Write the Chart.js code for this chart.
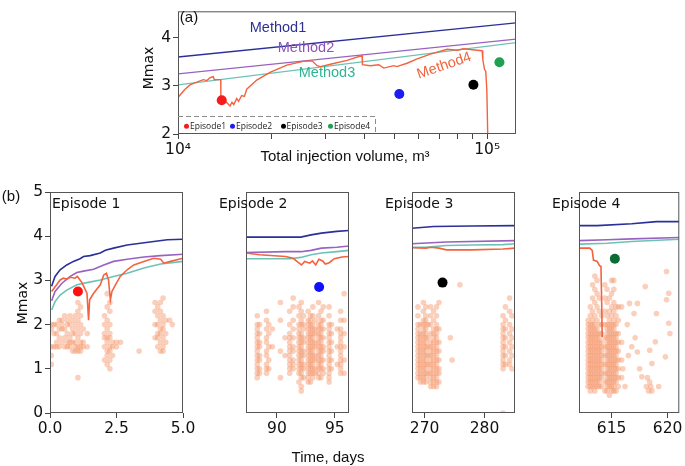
<!DOCTYPE html>
<html>
<head>
<meta charset="utf-8">
<script src="https://cdn.jsdelivr.net/npm/chart.js@4.4.1/dist/chart.umd.min.js"></script>
<style>
  html, body { margin: 0; padding: 0; background: #fff; }
  #wrap { position: relative; width: 685px; height: 466px; overflow: hidden; }
  canvas { position: absolute; left: 0; top: 0; }
  .t { position: absolute; white-space: nowrap; line-height: 1; transform: translate(-50%, -50%); color: #111; }
  .l { transform: translate(0, -50%); }
  .dj { font-family: "DejaVu Sans", sans-serif; font-size: 14px; }
  .ar { font-family: "Liberation Sans", Arial, sans-serif; font-size: 15px; }
  .lg { position: absolute; font-family: "Open Sans", sans-serif; font-size: 8.5px; color: #222; transform: translate(0, -50%); white-space: nowrap; line-height: 1; }
  .lg i { display: inline-block; width: 5px; height: 5px; border-radius: 50%; margin-right: 1px; vertical-align: 0.5px; }
</style>
</head>
<body>
<div id="wrap">
  <canvas id="top" width="685" height="466"></canvas>
  <canvas id="ep1" width="685" height="466"></canvas>
  <canvas id="ep2" width="685" height="466"></canvas>
  <canvas id="ep3" width="685" height="466"></canvas>
  <canvas id="ep4" width="685" height="466"></canvas>

  <svg width="685" height="466" style="position:absolute;left:0;top:0">
    <path d="M178 116.5 H375.5 V134" fill="none" stroke="#8a8a8a" stroke-width="1" stroke-dasharray="5 3"/>
  </svg>
  <div class="lg" style="left:184px;top:126px"><i style="background:#f21d1d"></i>Episode1</div>
  <div class="lg" style="left:230px;top:126px"><i style="background:#1d1df2"></i>Episode2</div>
  <div class="lg" style="left:280.5px;top:126px"><i style="background:#000"></i>Episode3</div>
  <div class="lg" style="left:328px;top:126px"><i style="background:#22a052"></i>Episode4</div>

  <div class="t ar" style="left:189px;top:16px">(a)</div>
  <div class="t ar" style="left:278px;top:27px;font-size:14.5px;color:#2e3192">Method1</div>
  <div class="t ar" style="left:306px;top:47px;font-size:14.5px;color:#8e52b8">Method2</div>
  <div class="t ar" style="left:327px;top:72px;font-size:14.5px;color:#2fb592">Method3</div>
  <div class="t ar" style="left:444px;top:65px;font-size:14.5px;color:#f0643f;transform:translate(-50%,-50%) rotate(-19deg)">Method4</div>
  <div class="t dj" style="left:148px;top:68px;transform:translate(-50%,-50%) rotate(-90deg)">Mmax</div>
  <div class="t ar" style="left:345px;top:155px">Total injection volume, m³</div>

  <div class="t ar" style="left:11px;top:195px">(b)</div>
  <div class="t dj" style="left:22px;top:303px;transform:translate(-50%,-50%) rotate(-90deg)">Mmax</div>
  <div class="t dj l" style="left:52px;top:203px">Episode 1</div>
  <div class="t dj l" style="left:219px;top:203px">Episode 2</div>
  <div class="t dj l" style="left:385px;top:203px">Episode 3</div>
  <div class="t dj l" style="left:552px;top:203px">Episode 4</div>
  <div class="t ar" style="left:328px;top:456px">Time, days</div>
</div>

<script>
// ---- panel (a): Mmax vs total injection volume ----
const topXTicks = [10000, 20000, 30000, 40000, 50000, 60000, 70000, 80000, 90000, 100000];
const topYTicks = [2, 3, 4];
const topMethod1 = [[10000, 3.6], [124000, 4.31]];
const topMethod2 = [[10000, 3.25], [124000, 3.97]];
const topMethod3 = [[10000, 3.02], [124000, 3.9]];
const topMethod4 = [
  [10000, 2.76], [10500, 2.92], [10935, 3.02], [11500, 3.08], [12075, 3.13], [12400, 3.11],
  [12700, 3.17], [13007, 3.19], [13100, 3.13], [13750, 3.13], [13760, 2.74], [14100, 2.7],
  [14400, 2.65], [14734, 2.58], [14950, 2.66], [15150, 2.61], [15488, 2.74], [15700, 2.68],
  [16074, 2.8], [16400, 2.78], [16684, 2.93], [17973, 3.12], [19846, 3.28], [22478, 3.43],
  [25437, 3.51], [27150, 3.52], [28180, 3.42], [28880, 3.4], [31120, 3.45], [35230, 3.53],
  [39400, 3.63], [39500, 3.44], [41920, 3.42], [44610, 3.44], [46300, 3.37], [49880, 3.42],
  [51000, 3.4], [55100, 3.47], [59360, 3.56], [65560, 3.66], [74260, 3.76], [79990, 3.74],
  [84040, 3.77], [92820, 3.74], [96330, 3.73], [96830, 3.55], [98000, 3.35], [99000, 3.3],
  [99800, 2.9], [100500, 1.9]
];
const episodeNames = ["Episode1", "Episode2", "Episode3", "Episode4"];
const topEpisodeX = [13850, 52000, 90300, 109600];
const topEpisodeY = [2.7, 2.83, 3.025, 3.49];
const topEpisodeColors = ["#f21d1d", "#1d1df2", "#000000", "#22a052"];

// ---- panel (b): Mmax vs time for each episode ----
const yTicksB = [0, 1, 2, 3, 4, 5];

const ep1Range = [0, 5];
const ep1Ticks = [0, 2.5, 5];
const ep1Dot = [1.05, 2.75];
const ep1M1 = [[0.06,2.87],[0.19,3.09],[0.38,3.24],[0.63,3.35],[0.88,3.43],[1.13,3.49],[1.26,3.54],[1.51,3.56],[1.89,3.62],[2.08,3.68],[2.39,3.73],[2.9,3.8],[3.4,3.84],[3.9,3.88],[4.41,3.92],[5,3.93]];
const ep1M2 = [[0.06,2.54],[0.19,2.75],[0.44,2.93],[0.76,3.09],[1.01,3.18],[1.26,3.21],[1.64,3.25],[2.02,3.35],[2.39,3.43],[2.9,3.48],[3.53,3.53],[4.16,3.56],[5,3.59]];
const ep1M3 = [[0.06,2.33],[0.19,2.52],[0.38,2.67],[0.63,2.78],[1.01,2.9],[1.39,2.95],[1.89,3.01],[2.39,3.09],[2.9,3.16],[3.53,3.28],[4.16,3.37],[5,3.43]];
const ep1M4 = [[0.06,2.75],[0.25,2.9],[0.38,3.01],[0.5,3.05],[0.63,3.03],[0.76,3.07],[0.94,3.05],[1.03,3.09],[1.2,2.95],[1.39,2.71],[1.45,2.1],[1.49,2.56],[1.64,2.71],[1.89,2.9],[2.02,3.12],[2.12,3.16],[2.2,3.01],[2.27,2.56],[2.33,2.75],[2.46,2.9],[2.64,3.09],[2.9,3.24],[3.15,3.35],[3.53,3.43],[3.9,3.5],[4.16,3.48],[4.28,3.39],[4.53,3.43],[5,3.5]];
const ep1Cloud = [
  [0.05, [1.1, 1.3, 1.5, 1.9, 2.0]],
  [0.15, [1.5, 1.8, 2.0]],
  [0.25, [1.5, 1.6, 1.8, 2.0]],
  [0.35, [1.5, 1.7, 1.9, 2.1]],
  [0.45, [1.6, 1.9, 2.0, 2.1]],
  [0.55, [1.5, 1.7, 1.9, 2.2]],
  [0.65, [1.5, 1.6, 1.8, 2.0, 2.1]],
  [0.75, [1.5, 1.6, 1.7, 2.0, 2.2]],
  [0.85, [1.4, 1.6, 1.8, 1.9, 2.1]],
  [0.95, [1.4, 1.5, 1.6, 1.8, 2.0, 2.2]],
  [1.05, [0.8, 1.4, 1.5, 1.7, 1.9, 2.1, 2.3, 2.5]],
  [1.15, [1.4, 1.5, 1.6, 1.8, 2.0, 2.2, 2.4]],
  [1.25, [1.5, 1.6, 1.9]],
  [1.4, [1.5, 1.8]],
  [2.05, [1.2, 1.5, 1.7, 1.8, 2.0, 2.2]],
  [2.15, [1.1, 1.3, 1.4, 1.6, 1.7, 1.9, 2.1, 2.4, 2.7]],
  [2.25, [1.0, 1.2, 1.4, 1.5, 1.7, 1.8, 2.0, 2.3, 2.5]],
  [2.35, [1.3, 1.5, 1.6]],
  [2.5, [1.5, 1.6]],
  [2.65, [1.6]],
  [3.35, [1.4]],
  [3.95, [1.7, 2.0, 2.3, 2.5]],
  [4.05, [1.5, 1.7, 1.8, 2.0, 2.2, 2.4]],
  [4.15, [1.4, 1.6, 1.8, 1.9, 2.1, 2.3, 2.5]],
  [4.25, [1.4, 1.5, 1.7, 1.9, 2.0, 2.2, 2.6]],
  [4.35, [1.6, 1.8, 2.1]],
  [4.5, [2.1]],
  [4.6, [2.0]]
];

const ep2Range = [87.33, 96.22];
const ep2Ticks = [90, 95];
const ep2Dot = [93.64, 2.85];
const ep2M1 = [[87.33,3.98],[92.06,3.98],[92.95,4.03],[93.84,4.07],[95.17,4.11],[96.24,4.13]];
const ep2M2 = [[87.33,3.63],[90.73,3.65],[92.06,3.65],[92.95,3.68],[93.84,3.73],[95.17,3.75],[96.24,3.78]];
const ep2M3 = [[87.33,3.49],[91.17,3.49],[92.06,3.52],[92.95,3.58],[93.84,3.62],[95.17,3.65],[96.24,3.68]];
const ep2M4 = [[87.33,3.62],[88.51,3.58],[90.73,3.54],[91.4,3.5],[91.73,3.43],[92.11,3.35],[92.4,3.43],[92.84,3.39],[93.06,3.44],[93.35,3.35],[93.62,3.48],[93.95,3.44],[94.17,3.37],[94.51,3.4],[94.95,3.49],[95.62,3.53],[96.24,3.54]];
const ep2Cloud = [
  [88.3, [0.8, 0.9, 1.0, 1.1, 1.2, 1.3, 1.4, 1.5, 1.6, 1.7, 1.8, 1.9, 2.0, 2.2]],
  [88.5, [0.9, 1.0, 1.2, 1.3, 1.5, 1.6, 1.8, 2.0]],
  [89.1, [0.9, 1.0, 1.1, 1.3, 1.4, 1.6, 1.7, 1.9, 2.1, 2.3]],
  [89.3, [1.0, 1.2, 1.5, 1.8, 2.0]],
  [89.6, [1.5, 1.9]],
  [90.3, [0.8, 1.4, 2.1, 2.5]],
  [90.7, [1.3, 1.7]],
  [91.1, [0.9, 1.0, 1.1, 1.2, 1.3, 1.4, 1.5, 1.6, 1.7, 1.8, 2.0, 2.3]],
  [91.4, [1.0, 1.1, 1.2, 1.4, 1.5, 1.7, 1.9, 2.1, 2.4, 2.6]],
  [91.9, [0.7, 0.9, 1.0, 1.1, 1.2, 1.3, 1.4, 1.5, 1.6, 1.7, 1.8, 1.9, 2.0, 2.2, 2.4]],
  [92.1, [0.5, 0.6, 0.8, 0.9, 1.0, 1.1, 1.2, 1.3, 1.4, 1.5, 1.6, 1.7, 1.8, 2.0, 2.1, 2.3, 2.5]],
  [92.3, [0.8, 1.0, 1.1, 1.3, 1.4, 1.6, 1.7, 1.9, 2.0, 2.2]],
  [92.7, [0.7, 0.8, 0.9, 1.0, 1.1, 1.2, 1.3, 1.4, 1.5, 1.6, 1.7, 1.8, 1.9, 2.0, 2.1, 2.3]],
  [92.9, [0.7, 0.9, 1.0, 1.1, 1.2, 1.3, 1.4, 1.5, 1.6, 1.7, 1.8, 1.9, 2.0, 2.1, 2.2]],
  [93.1, [0.8, 0.9, 1.0, 1.1, 1.2, 1.3, 1.4, 1.5, 1.6, 1.7, 1.8, 1.9, 2.0, 2.2, 2.4]],
  [93.3, [0.9, 1.0, 1.2, 1.3, 1.5, 1.6, 1.8, 1.9, 2.1]],
  [93.6, [0.8, 0.9, 1.0, 1.1, 1.2, 1.3, 1.4, 1.5, 1.6, 1.7, 1.8, 1.9, 2.0, 2.2, 2.5]],
  [93.8, [0.8, 1.0, 1.1, 1.2, 1.3, 1.4, 1.5, 1.6, 1.7, 1.8, 1.9, 2.0, 2.1, 2.3]],
  [94.0, [0.9, 1.0, 1.2, 1.4, 1.5, 1.7, 1.9, 2.1, 2.4]],
  [94.5, [0.7, 0.8, 0.9, 1.0, 1.1, 1.2, 1.3, 1.4, 1.5, 1.6, 1.7, 1.8, 1.9, 2.0, 2.2, 2.4]],
  [94.7, [1.0, 1.2, 1.4, 1.6, 1.8, 2.0]],
  [95.2, [1.1, 1.5, 1.9]],
  [95.5, [0.9, 1.0, 1.1, 1.2, 1.3, 1.4, 1.5, 1.6, 1.7, 1.8, 1.9, 2.1, 2.3]],
  [95.8, [0.9, 1.2, 1.5, 1.8, 2.1, 2.7]]
];

const ep3Range = [267.9, 285.1];
const ep3Ticks = [270, 280];
const ep3Dot = [273.0, 2.95];
const ep3M1 = [[267.9,4.18],[271.5,4.22],[277.9,4.23],[285.1,4.24]];
const ep3M2 = [[267.9,3.83],[273.65,3.87],[285.1,3.9]];
const ep3M3 = [[267.9,3.75],[270.2,3.75],[273.65,3.79],[277.9,3.8],[283.1,3.81],[285.1,3.83]];
const ep3M4 = [[267.9,3.74],[270.2,3.73],[271.1,3.75],[272.4,3.73],[273.65,3.69],[277.9,3.69],[283.1,3.71],[285.1,3.73]];
const ep3Cloud = [
  [268.9, [0.8, 0.9, 1.0, 1.1, 1.2, 1.3, 1.4, 1.5, 1.6, 1.7, 1.8, 1.9, 2.0, 2.2, 2.4]],
  [269.3, [0.7, 0.8, 0.9, 1.0, 1.1, 1.2, 1.3, 1.4, 1.5, 1.6, 1.7, 1.8, 2.0]],
  [269.8, [0.7, 0.8, 0.9, 1.0, 1.1, 1.2, 1.3, 1.4, 1.5, 1.6, 1.7, 1.8, 1.9, 2.0, 2.1, 2.3, 2.5]],
  [270.2, [0.7, 0.8, 0.9, 1.0, 1.1, 1.2, 1.3, 1.4, 1.5, 1.6, 1.7, 1.8, 1.9, 2.0, 2.1, 2.2, 2.4]],
  [270.6, [0.9, 1.1, 1.3, 1.5, 1.7, 2.0]],
  [271.0, [0.6, 0.7, 0.8, 0.9, 1.0, 1.1, 1.2, 1.3, 1.4, 1.5, 1.6, 1.8, 2.0, 2.2, 2.4]],
  [271.5, [0.6, 0.7, 0.8, 0.9, 1.0, 1.1, 1.2, 1.3, 1.4, 1.5, 1.6, 1.7, 1.8, 1.9, 2.1, 2.3]],
  [272.0, [0.6, 0.7, 0.8, 0.9, 1.0, 1.1, 1.2, 1.3, 1.4, 1.5, 1.6, 1.7, 1.8, 1.9, 2.0, 2.2, 2.4]],
  [272.4, [0.7, 0.9, 1.0, 1.2, 1.4, 1.6, 1.9, 2.5]],
  [274.3, [1.7]],
  [274.6, [1.2]],
  [275.9, [2.9]],
  [283.1, [0.0, 1.0, 1.1, 1.2, 1.3, 1.4, 1.5, 1.6, 1.7, 1.8, 1.9, 2.0, 2.2]],
  [283.5, [1.1, 1.3, 1.5, 1.7, 1.9, 2.1, 2.4]],
  [284.2, [1.1, 1.2, 1.4, 1.6, 1.8, 2.0, 2.3, 2.6]],
  [284.6, [1.0, 1.3, 1.5, 1.7, 1.9, 2.2]]
];

const ep4Range = [612.09, 621.04];
const ep4Ticks = [615, 620];
const ep4Dot = [615.29, 3.49];
const ep4M1 = [[612.09,4.24],[613.7,4.24],[616.8,4.28],[619.0,4.33],[621.04,4.33]];
const ep4M2 = [[612.09,3.9],[614.6,3.92],[616.8,3.94],[621.04,3.97]];
const ep4M3 = [[612.09,3.82],[614.6,3.84],[616.8,3.88],[621.04,3.93]];
const ep4M4 = [[612.09,3.73],[613.05,3.73],[613.27,3.68],[613.38,3.46],[613.71,3.43],[613.93,3.33],[614.05,3.32],[614.11,2.56],[614.16,1.72]];
const ep4Cloud = [
  [612.9, [0.6, 0.7, 0.8, 0.9, 1.0, 1.1, 1.2, 1.3, 1.4, 1.5, 1.6, 1.7, 1.8, 1.9, 2.0, 2.1]],
  [613.1, [0.5, 0.6, 0.7, 0.8, 0.9, 1.0, 1.1, 1.2, 1.3, 1.4, 1.5, 1.6, 1.7, 1.8, 1.9, 2.0, 2.2, 2.4]],
  [613.3, [0.6, 0.7, 0.8, 0.9, 1.0, 1.1, 1.2, 1.3, 1.4, 1.5, 1.6, 1.7, 1.8, 1.9, 2.0, 2.1, 2.3, 2.6, 2.9]],
  [613.5, [0.5, 0.6, 0.7, 0.8, 0.9, 1.0, 1.1, 1.2, 1.3, 1.4, 1.5, 1.6, 1.7, 1.8, 1.9, 2.0, 2.2, 2.5, 2.8, 3.1]],
  [613.7, [0.6, 0.7, 0.8, 0.9, 1.0, 1.1, 1.2, 1.3, 1.4, 1.5, 1.6, 1.7, 1.8, 1.9, 2.1, 2.4, 2.7, 3.0]],
  [613.9, [0.6, 0.7, 0.8, 0.9, 1.0, 1.1, 1.2, 1.3, 1.4, 1.5, 1.6, 1.7, 1.8, 2.0, 2.3, 2.6]],
  [614.1, [0.6, 0.8, 0.9, 1.0, 1.1, 1.2, 1.3, 1.4, 1.5, 1.6, 1.8, 2.0, 2.2]],
  [614.4, [0.5, 0.7, 0.9, 1.1, 1.3, 1.5, 1.7, 2.0, 2.3, 2.6, 2.9]],
  [614.6, [0.5, 0.6, 0.7, 0.8, 0.9, 1.0, 1.1, 1.2, 1.3, 1.4, 1.5, 1.6, 1.7, 1.8, 1.9, 2.0, 2.2, 2.5, 2.8]],
  [614.8, [0.4, 0.6, 0.7, 0.8, 0.9, 1.0, 1.1, 1.2, 1.3, 1.4, 1.5, 1.6, 1.7, 1.8, 1.9, 2.0, 2.1, 2.3, 2.6]],
  [615.0, [0.5, 0.6, 0.7, 0.8, 0.9, 1.0, 1.1, 1.2, 1.3, 1.4, 1.5, 1.6, 1.7, 1.8, 1.9, 2.0, 2.2, 2.4, 2.7, 3.0]],
  [615.2, [0.5, 0.6, 0.7, 0.8, 0.9, 1.0, 1.1, 1.2, 1.3, 1.4, 1.5, 1.6, 1.7, 1.8, 1.9, 2.0, 2.1, 2.3, 2.5, 2.8, 3.0]],
  [615.4, [0.5, 0.7, 0.8, 0.9, 1.0, 1.1, 1.2, 1.3, 1.4, 1.5, 1.6, 1.7, 1.8, 2.0, 2.2, 2.4]],
  [615.6, [0.6, 0.8, 1.0, 1.2, 1.4, 1.6, 1.8, 2.1, 2.4]],
  [615.9, [0.8, 1.2, 1.6, 2.4]]
];
const ep4Loose = [
  [616.0, 1.0], [616.2, 0.6], [616.4, 2.0], [616.5, 1.3], [616.6, 2.48], [616.8, 1.5], [617.0, 2.25],
  [617.1, 1.7], [617.3, 2.48], [617.3, 1.38], [617.5, 1.0], [617.7, 0.82], [618.0, 2.86], [618.1, 0.6],
  [618.2, 0.8], [618.3, 0.5], [618.4, 0.7], [618.4, 1.42], [618.5, 0.6], [618.6, 0.5], [618.6, 1.12],
  [618.9, 1.61], [619.0, 2.25], [619.2, 0.6], [619.8, 1.27], [619.9, 3.2], [619.9, 2.56], [620.1, 2.71],
  [620.1, 2.03], [620.2, 1.8]
];

// colours
const cM1 = "#2b2f99", cM2 = "#9a62c0", cM3 = "#6cc3b5", cM4 = "#f4623e";
const cloudColor = "rgba(244, 148, 104, 0.45)";

const W = 685, H = 466;
const pairs = arr => arr.map(([x, y]) => ({ x, y }));
const cols = arr => arr.flatMap(([x, ys]) => ys.map(y => ({ x, y })));

const frame = {
    id: "frame",
    afterDraw(chart) {
        const a = chart.chartArea, ctx = chart.ctx;
        ctx.save();
        ctx.strokeStyle = "#555";
        ctx.lineWidth = 1;
        ctx.strokeRect(a.left + 0.5, a.top + 0.5, a.right - a.left - 1, a.bottom - a.top - 1);
        ctx.restore();
    }
};

function line(data, color, width) {
    return { data: pairs(data), showLine: true, borderColor: color, borderWidth: width || 1.6, pointRadius: 0, tension: 0 };
}
function dot(xy, color) {
    return { data: [{ x: xy[0], y: xy[1] }], backgroundColor: color, borderWidth: 0, pointRadius: 5 };
}
function cloud(points) {
    return { data: points, backgroundColor: cloudColor, borderWidth: 0, pointRadius: 2.8 };
}

function axis(o) {
    return {
        type: o.type || "linear",
        display: o.display !== false,
        min: o.min, max: o.max, bounds: "data",
        afterFit: s => { if (o.horizontal) s.height = 30; else s.width = 30; },
        afterBuildTicks: s => { s.ticks = o.ticks.map(v => ({ value: v })); },
        grid: { display: true, drawOnChartArea: false, drawTicks: true, tickLength: 5, color: "#444", lineWidth: 1 },
        border: { display: false },
        ticks: {
            autoSkip: false, maxRotation: 0, padding: 2, color: "#111",
            font: { family: "DejaVu Sans", size: 15.5 },
            callback: o.fmt || (v => String(v))
        }
    };
}

function panel(id, box, datasets, xOpts, yOpts) {
    const yW = yOpts.display === false ? 0 : 30;
    return new Chart(document.getElementById(id), {
        type: "scatter",
        data: { datasets },
        options: {
            responsive: false, animation: false, events: [],
            layout: { padding: { left: box.left - yW, top: box.top, right: W - box.right, bottom: H - box.bottom - 30 } },
            plugins: { legend: { display: false }, tooltip: { enabled: false } },
            scales: { x: axis({ ...xOpts, horizontal: true }), y: axis(yOpts) }
        },
        plugins: [frame]
    });
}

// panel (a)
panel("top", { left: 178, right: 516, top: 2, bottom: 134 }, [
    ...topEpisodeX.map((x, i) => dot([x, topEpisodeY[i]], topEpisodeColors[i])),
    line(topMethod4, cM4, 1.4),
    line(topMethod3, cM3, 1.3),
    line(topMethod2, cM2, 1.3),
    line(topMethod1, cM1, 1.3)
], {
    type: "logarithmic", min: 10000, max: 124000, ticks: topXTicks,
    fmt: v => v === 10000 ? "10⁴" : v === 100000 ? "10⁵" : ""
}, { min: 2, max: 4.55, ticks: topYTicks });

// panel (b)
const bY = { min: 0, max: 5, ticks: yTicksB };
const bYHidden = { min: 0, max: 5, ticks: [], display: false };
const episodes = [
    { id: "ep1", left: 50, right: 183, range: ep1Range, ticks: ep1Ticks, dot: ep1Dot, color: "#ff1010",
      m: [ep1M1, ep1M2, ep1M3, ep1M4], cloud: cols(ep1Cloud), fmt: v => v.toFixed(1), y: bY },
    { id: "ep2", left: 216, right: 349, range: ep2Range, ticks: ep2Ticks, dot: ep2Dot, color: "#1010ff",
      m: [ep2M1, ep2M2, ep2M3, ep2M4], cloud: cols(ep2Cloud), y: bYHidden },
    { id: "ep3", left: 382, right: 515, range: ep3Range, ticks: ep3Ticks, dot: ep3Dot, color: "#000000",
      m: [ep3M1, ep3M2, ep3M3, ep3M4], cloud: cols(ep3Cloud), y: bYHidden },
    { id: "ep4", left: 549, right: 682, range: ep4Range, ticks: ep4Ticks, dot: ep4Dot, color: "#0b6b35",
      m: [ep4M1, ep4M2, ep4M3, ep4M4], cloud: cols(ep4Cloud).concat(pairs(ep4Loose)), y: bYHidden }
];

episodes.forEach(ep => {
    panel(ep.id, { left: ep.left, right: ep.right, top: 192, bottom: 413 }, [
        dot(ep.dot, ep.color),
        line(ep.m[3], cM4),
        line(ep.m[2], cM3),
        line(ep.m[1], cM2),
        line(ep.m[0], cM1),
        cloud(ep.cloud)
    ], { min: ep.range[0], max: ep.range[1], ticks: ep.ticks, fmt: ep.fmt }, ep.y);
});
</script>
</body>
</html>
